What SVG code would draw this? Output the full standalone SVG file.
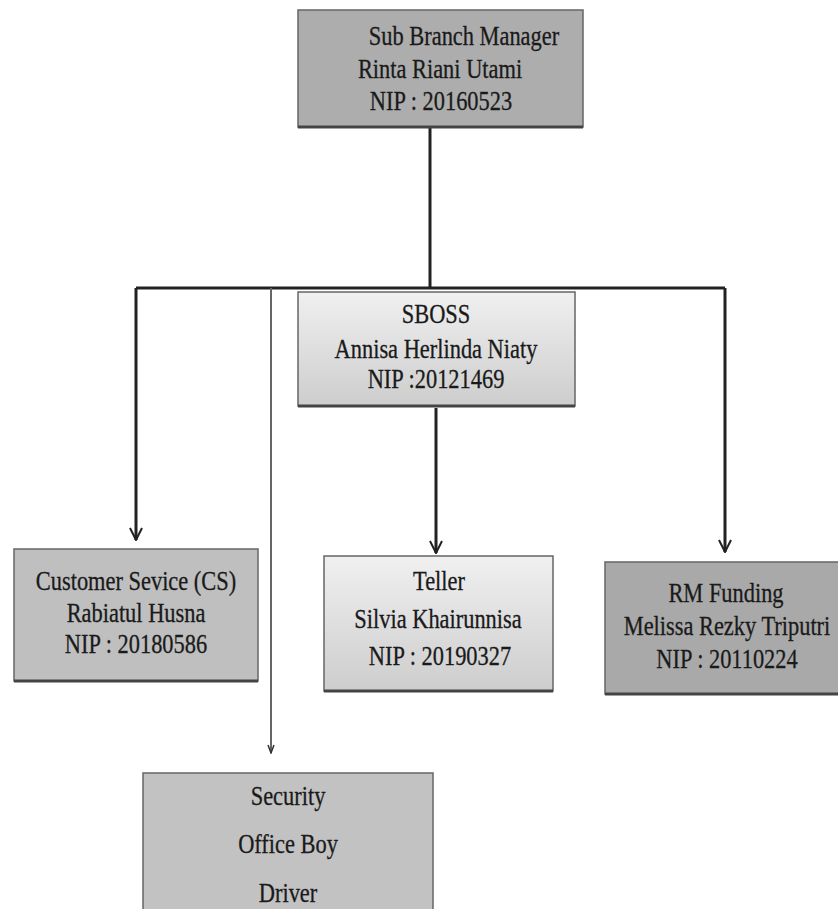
<svg xmlns="http://www.w3.org/2000/svg" width="838" height="909" viewBox="0 0 838 909">
<defs>
<linearGradient id="lg" x1="0" y1="0" x2="0" y2="1">
<stop offset="0" stop-color="#f0f0f0"/>
<stop offset="1" stop-color="#cdcdcd"/>
</linearGradient>
<marker id="arr" markerWidth="14" markerHeight="14" refX="7" refY="13" markerUnits="userSpaceOnUse" viewBox="0 0 14 14">
<path d="M1,1 L7,13 L13,1" fill="none" stroke="#222" stroke-width="2"/>
</marker>
<marker id="arrs" markerWidth="8" markerHeight="10" refX="4" refY="9" markerUnits="userSpaceOnUse" viewBox="0 0 8 10">
<path d="M1,1 L4,9 L7,1" fill="none" stroke="#333" stroke-width="1.5"/>
</marker>
</defs>
<style>
.box{stroke:#666;stroke-width:1.5}
.sh{fill:none;stroke:#444;stroke-width:3}
.t{font-family:"Liberation Serif","Times New Roman",serif;font-size:27px;fill:#1a1a1a;stroke:#1a1a1a;stroke-width:0.3;text-anchor:middle}
.ln{fill:none;stroke:#222;stroke-width:3}
</style>
<rect width="838" height="909" fill="#ffffff"/>
<g id="connectors">
<path class="ln" d="M430,128 V288"/>
<path class="ln" d="M136,288 H725"/>
<path class="ln" d="M136,288 V540" marker-end="url(#arr)"/>
<path class="ln" d="M725,288 V552" marker-end="url(#arr)"/>
<path class="ln" d="M436,408 V553" marker-end="url(#arr)"/>
<path d="M271,288 V753" fill="none" stroke="#666" stroke-width="2" marker-end="url(#arrs)"/>
</g>
<g id="manager">
<rect class="box" x="298" y="10" width="285" height="117" fill="#adadad"/>
<path class="sh" d="M298,127 H583"/>
<text class="t" transform="translate(464,45) scale(0.83,1)">Sub Branch Manager</text>
<text class="t" transform="translate(440,78) scale(0.83,1)">Rinta Riani Utami</text>
<text class="t" transform="translate(441,110) scale(0.83,1)">NIP : 20160523</text>
</g>
<g id="sboss">
<rect class="box" x="298" y="292" width="277" height="114" fill="url(#lg)"/>
<path class="sh" d="M298,406 H575"/>
<text class="t" transform="translate(436,323) scale(0.83,1)">SBOSS</text>
<text class="t" transform="translate(436,358) scale(0.83,1)">Annisa Herlinda Niaty</text>
<text class="t" transform="translate(436,388) scale(0.83,1)">NIP :20121469</text>
</g>
<g id="cs">
<rect class="box" x="14" y="549" width="244" height="132" fill="#bfbfbf"/>
<path class="sh" d="M14,681 H258"/>
<text class="t" transform="translate(136,590) scale(0.83,1)">Customer Sevice (CS)</text>
<text class="t" transform="translate(136,622) scale(0.83,1)">Rabiatul Husna</text>
<text class="t" transform="translate(136,653) scale(0.83,1)">NIP : 20180586</text>
</g>
<g id="teller">
<rect class="box" x="324" y="556" width="229" height="135" fill="url(#lg)"/>
<path class="sh" d="M324,691 H553"/>
<text class="t" transform="translate(439,590) scale(0.83,1)">Teller</text>
<text class="t" transform="translate(438,628) scale(0.83,1)">Silvia Khairunnisa</text>
<text class="t" transform="translate(440,665) scale(0.83,1)">NIP : 20190327</text>
</g>
<g id="rm">
<rect class="box" x="605" y="562" width="240" height="132" fill="#a9a9a9"/>
<path class="sh" d="M605,694 H840"/>
<text class="t" transform="translate(726,602) scale(0.83,1)">RM Funding</text>
<text class="t" transform="translate(727,635) scale(0.83,1)">Melissa Rezky Triputri</text>
<text class="t" transform="translate(727,668) scale(0.83,1)">NIP : 20110224</text>
</g>
<g id="support">
<rect class="box" x="143" y="773" width="290" height="145" fill="#c2c2c2"/>
<text class="t" transform="translate(288,805) scale(0.83,1)">Security</text>
<text class="t" transform="translate(288,853) scale(0.83,1)">Office Boy</text>
<text class="t" transform="translate(288,902) scale(0.83,1)">Driver</text>
</g>
</svg>
